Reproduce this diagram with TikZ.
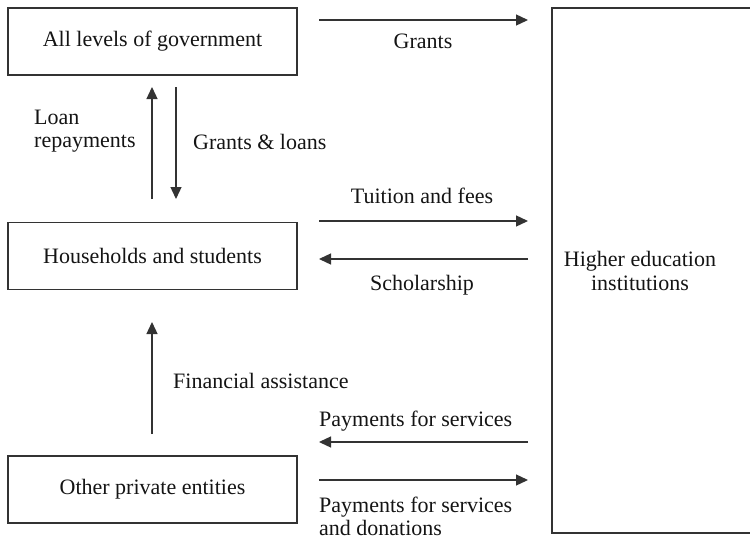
\documentclass[tikz,border=0pt]{standalone}
\usepackage{fontspec}
\setmainfont{Liberation Serif}
\usetikzlibrary{arrows.meta}
\definecolor{ln}{HTML}{333333}
\definecolor{tx}{HTML}{141414}
\begin{document}
\begin{tikzpicture}[x=1pt,y=-1pt,
  box/.style={draw=ln,line width=1.3pt,minimum width=289pt,minimum height=67pt,inner sep=0pt,text=tx,font=\fontsize{22}{24}\selectfont},
  lbl/.style={inner sep=0pt,text=tx,font=\fontsize{22}{24}\selectfont},
  flow/.style={draw=ln,line width=1.3pt,-{Triangle[length=12pt,width=11pt]}}]
\useasboundingbox (0,0) rectangle (750,541);
\node[box] (gov) at (152.5,41.5) {All levels of government};
\node[box] (hh) at (152.5,256) {Households and students};
\node[box] (ope) at (152.5,489.5) {Other private entities};
\draw[ln,line width=1.3pt] (751,8) -- (552,8) -- (552,533) -- (751,533);
\node[lbl,align=center] (hei) at (640,271) {Higher education\\institutions};
% coordinates
\coordinate (g1) at (319,20); \coordinate (g2) at (528,20);
\coordinate (lr1) at (152,199); \coordinate (lr2) at (152,87);
\coordinate (gl1) at (176,87); \coordinate (gl2) at (176,199);
\coordinate (t1) at (319,221); \coordinate (t2) at (528,221);
\coordinate (s1) at (528,259); \coordinate (s2) at (319,259);
\coordinate (f1) at (152,434); \coordinate (f2) at (152,322);
\coordinate (p1) at (528,442); \coordinate (p2) at (319,442);
\coordinate (d1) at (319,480); \coordinate (d2) at (528,480);
\draw[flow] (g1) -- (g2);
\draw[flow] (lr1) -- (lr2);
\draw[flow] (gl1) -- (gl2);
\draw[flow] (t1) -- (t2);
\draw[flow] (s1) -- (s2);
\draw[flow] (f1) -- (f2);
\draw[flow] (p1) -- (p2);
\draw[flow] (d1) -- (d2);
% labels
\node[lbl,anchor=base] (lg) at (423,48) {Grants};
\node[lbl,anchor=base west] (llr) at (34,124) {Loan};
\node[lbl,anchor=base west] (llr2) at (34,147) {repayments};
\node[lbl,anchor=base west] (lgl) at (193,149) {Grants \& loans};
\node[lbl,anchor=base] (lt) at (422,203) {Tuition and fees};
\node[lbl,anchor=base] (ls) at (422,290) {Scholarship};
\node[lbl,anchor=base west] (lf) at (173,388) {Financial assistance};
\node[lbl,anchor=base west] (lp) at (319,426) {Payments for services};
\node[lbl,anchor=base west] (ld) at (319,512) {Payments for services};
\node[lbl,anchor=base west] (ld2) at (319,535) {and donations};
\end{tikzpicture}
\end{document}
